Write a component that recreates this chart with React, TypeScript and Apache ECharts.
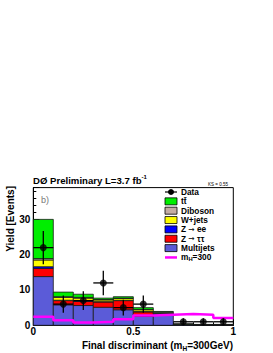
import React, { useEffect, useRef } from "react";
import * as echarts from "echarts";

const binEdges = [0, 0.1, 0.2, 0.3, 0.4, 0.5, 0.6, 0.7, 0.8, 0.9, 1.0];
const multijets = [13.8, 5.8, 5.6, 5.1, 4.4, 2.5, 3.2, 0.2, 0.15, 0.15];
const ztautau = [2.3, 1.2, 1.2, 1.5, 2.6, 1.3, 0.1, 0.05, 0.03, 0.03];
const zee = [0.5, 0.1, 0.1, 0.1, 0.1, 0.1, 0.02, 0, 0, 0];
const wjets = [1.9, 0.8, 0.8, 0.5, 0.5, 0.5, 0.1, 0.03, 0.02, 0.02];
const diboson = [0.4, 0.2, 0.2, 0.1, 0.1, 0.1, 0.3, 0.02, 0.02, 0.02];
const ttbar = [11.1, 1.3, 0.9, 0.4, 0.4, 0.5, 0.2, 0.05, 0.03, 0.03];
const dataCounts = [22, 6, 7, 12, 5, 6, 0, 1, 1, 1];
const signal = [2.4, 1.4, 0.8, 1.0, 1.7, 2.8, 3.0, 3.2, 3.0, 2.1];

const yTicks = [0, 10, 20, 30];
const xTicks = [0, 0.5, 1];

const layers = [
  { name: "Multijets", values: multijets, color: "#5b5bd8" },
  { name: "Z → ττ", values: ztautau, color: "#ff0000" },
  { name: "Z → ee", values: zee, color: "#0000ff" },
  { name: "W+jets", values: wjets, color: "#ffff00" },
  { name: "Diboson", values: diboson, color: "#c4aca4" },
  { name: "tt̄", values: ttbar, color: "#00ee00" },
];

const FONT = "'Liberation Sans', Arial, Helvetica, sans-serif";

export default function App() {
  const ref = useRef<HTMLDivElement>(null);
  useEffect(() => {
    document.body.style.margin = "0";
    const chart = echarts.init(ref.current!, null, { renderer: "svg" });

    const cum = binEdges.slice(0, -1).map(() => 0);
    const stackSeries: any[] = layers.map((layer, li) => {
      const items = layer.values.map((v, i) => {
        const b = cum[i];
        cum[i] = b + v;
        return [binEdges[i], binEdges[i + 1], b, b + v];
      });
      return {
        type: "custom",
        name: layer.name,
        z: 2 + li,
        data: items,
        renderItem: (params: any, api: any) => {
          const p0 = api.coord([api.value(0), api.value(3)]);
          const p1 = api.coord([api.value(1), api.value(2)]);
          return {
            type: "rect",
            shape: { x: p0[0], y: p0[1], width: p1[0] - p0[0], height: p1[1] - p0[1] },
            style: { fill: layer.color, stroke: "#1a1a1a", lineWidth: 0.8 },
          };
        },
      };
    });

    const signalData = signal.map((v, i) => [binEdges[i], v]);
    signalData.push([binEdges[binEdges.length - 1], signal[signal.length - 1]]);

    const dataPts = dataCounts
      .map((n, i) => ({ n, i }))
      .filter((d) => d.n > 0)
      .map((d) => [(binEdges[d.i] + binEdges[d.i + 1]) / 2, d.n, binEdges[d.i], binEdges[d.i + 1], Math.sqrt(d.n)]);

    const legendTop = 192;
    const legendStep = 9.35;
    const legendColors = ["#00ee00", "#c4aca4", "#ffff00", "#0000ff", "#ff0000", "#5b5bd8"];
    const LF = `bold 8.3px ${FONT}`;
    const AF = `7.5px 'DejaVu Sans', ${FONT}`;
    const rich = {
      a: { font: LF, fill: "#000", lineHeight: 8.5 },
      r: { font: AF, fill: "#000", lineHeight: 8.5 },
      s: { font: `bold 5.8px ${FONT}`, fill: "#000", lineHeight: 6, padding: [4, 0, 0, 0] },
    };
    const legendTexts = [
      "{a|tt̄}",
      "{a|Diboson}",
      "{a|W+jets}",
      "{a|Z }{r|→}{a| ee}",
      "{a|Z }{r|→}{a| ττ}",
      "{a|Multijets}",
    ];
    const graphics: any[] = [];
    graphics.push({ type: "line", shape: { x1: 165, y1: legendTop, x2: 177, y2: legendTop }, style: { stroke: "#000", lineWidth: 1.2 }, z: 100 });
    graphics.push({ type: "circle", shape: { cx: 171, cy: legendTop, r: 3 }, style: { fill: "#000" }, z: 100 });
    graphics.push({ type: "text", x: 181, y: legendTop, style: { text: "{a|Data}", rich, verticalAlign: "middle" }, z: 100 });
    legendTexts.forEach((t, k) => {
      const y = legendTop + legendStep * (k + 1);
      graphics.push({ type: "rect", shape: { x: 165, y: y - 3.5, width: 12, height: 7 }, style: { fill: legendColors[k], stroke: "#000", lineWidth: 0.8 }, z: 100 });
      graphics.push({ type: "text", x: 181, y, style: { text: t, rich, verticalAlign: "middle" }, z: 100 });
    });
    const yS = legendTop + legendStep * 7;
    graphics.push({ type: "line", shape: { x1: 165, y1: yS, x2: 177, y2: yS }, style: { stroke: "#ff00ff", lineWidth: 2.5 }, z: 100 });
    graphics.push({
      type: "text", x: 181, y: yS,
      style: { text: "{a|m}{s|H}{a|=300}", verticalAlign: "middle", rich }, z: 100,
    });
    graphics.push({
      type: "text", x: 33, y: 180,
      style: {
        text: "{a|DØ Preliminary L=3.7 fb}{s|-1}", verticalAlign: "middle",
        rich: { a: { font: `bold 9.6px ${FONT}`, fill: "#000" }, s: { font: `bold 6px ${FONT}`, fill: "#000", padding: [0, 0, 6, 0] } },
      },
    });
    graphics.push({ type: "text", x: 228, y: 184, style: { text: "KS = 0.55", font: `4.5px ${FONT}`, fill: "#000", align: "right", verticalAlign: "middle" } });
    graphics.push({ type: "text", x: 41, y: 200, style: { text: "b)", font: `9px ${FONT}`, fill: "#777", verticalAlign: "middle" } });
    graphics.push({
      type: "text", x: 233, y: 345,
      style: {
        text: "{a|Final discriminant (m}{s|H}{a|=300GeV)}", align: "right", verticalAlign: "middle",
        rich: { a: { font: `bold 10px ${FONT}`, fill: "#000" }, s: { font: `bold 6.5px ${FONT}`, fill: "#000", padding: [6, 0, 0, 0] } },
      },
    });
    graphics.push({
      type: "text", x: 10, y: 186, rotation: Math.PI / 2,
      style: { text: "Yield [Events]", font: `bold 10px ${FONT}`, fill: "#000", align: "right", verticalAlign: "middle" },
    });

    chart.setOption({
      animation: false,
      backgroundColor: "#fff",
      grid: { left: 33.3, right: 39.7, top: 187.6, bottom: 27.7, show: true, borderColor: "#000", borderWidth: 1, backgroundColor: "transparent" },
      xAxis: {
        type: "value", min: 0, max: 1, interval: 0.5,
        axisLine: { show: true, lineStyle: { color: "#000", width: 1 } },
        axisTick: { inside: true, length: 6, lineStyle: { color: "#000" } },
        minorTick: { show: true, splitNumber: 5, length: 3, lineStyle: { color: "#000" } },
        splitLine: { show: false },
        axisLabel: {
          color: "#000", fontFamily: FONT, fontWeight: "bold", fontSize: 10, margin: 1,
          formatter: (v: number) => (xTicks.includes(v) ? String(v) : ""),
        },
      },
      yAxis: {
        type: "value", min: 0, max: 39, interval: 10,
        axisLine: { show: true, lineStyle: { color: "#000", width: 1 } },
        axisTick: { inside: true, length: 6, lineStyle: { color: "#000" } },
        minorTick: { show: true, splitNumber: 5, length: 3, lineStyle: { color: "#000" } },
        splitLine: { show: false },
        axisLabel: {
          color: "#000", fontFamily: FONT, fontWeight: "bold", fontSize: 10, margin: 3,
          formatter: (v: number) => (yTicks.includes(v) ? String(v) : ""),
        },
      },
      series: [
        ...stackSeries,
        {
          type: "line", name: "mH=300", data: signalData, step: "end", z: 20,
          symbol: "none", lineStyle: { color: "#ff00ff", width: 2.5 },
        },
        {
          type: "custom", name: "Data errors", z: 30, data: dataPts,
          renderItem: (params: any, api: any) => {
            const x = api.value(0), y = api.value(1), lo = api.value(2), hi = api.value(3), e = api.value(4);
            const a = api.coord([lo, y]), b = api.coord([hi, y]);
            const c = api.coord([x, y - e]), d = api.coord([x, y + e]);
            return {
              type: "group",
              children: [
                { type: "line", shape: { x1: a[0], y1: a[1], x2: b[0], y2: b[1] }, style: { stroke: "#000", lineWidth: 1.3 } },
                { type: "line", shape: { x1: c[0], y1: c[1], x2: d[0], y2: d[1] }, style: { stroke: "#000", lineWidth: 1.3 } },
              ],
            };
          },
        },
        {
          type: "scatter", name: "Data", z: 31, data: dataPts.map((p) => [p[0], p[1]]),
          symbol: "circle", symbolSize: 7, itemStyle: { color: "#000" },
        },
      ],
      graphic: graphics,
    });
    return () => chart.dispose();
  }, []);
  return <div ref={ref} style={{ width: 273, height: 353 }} />;
}
